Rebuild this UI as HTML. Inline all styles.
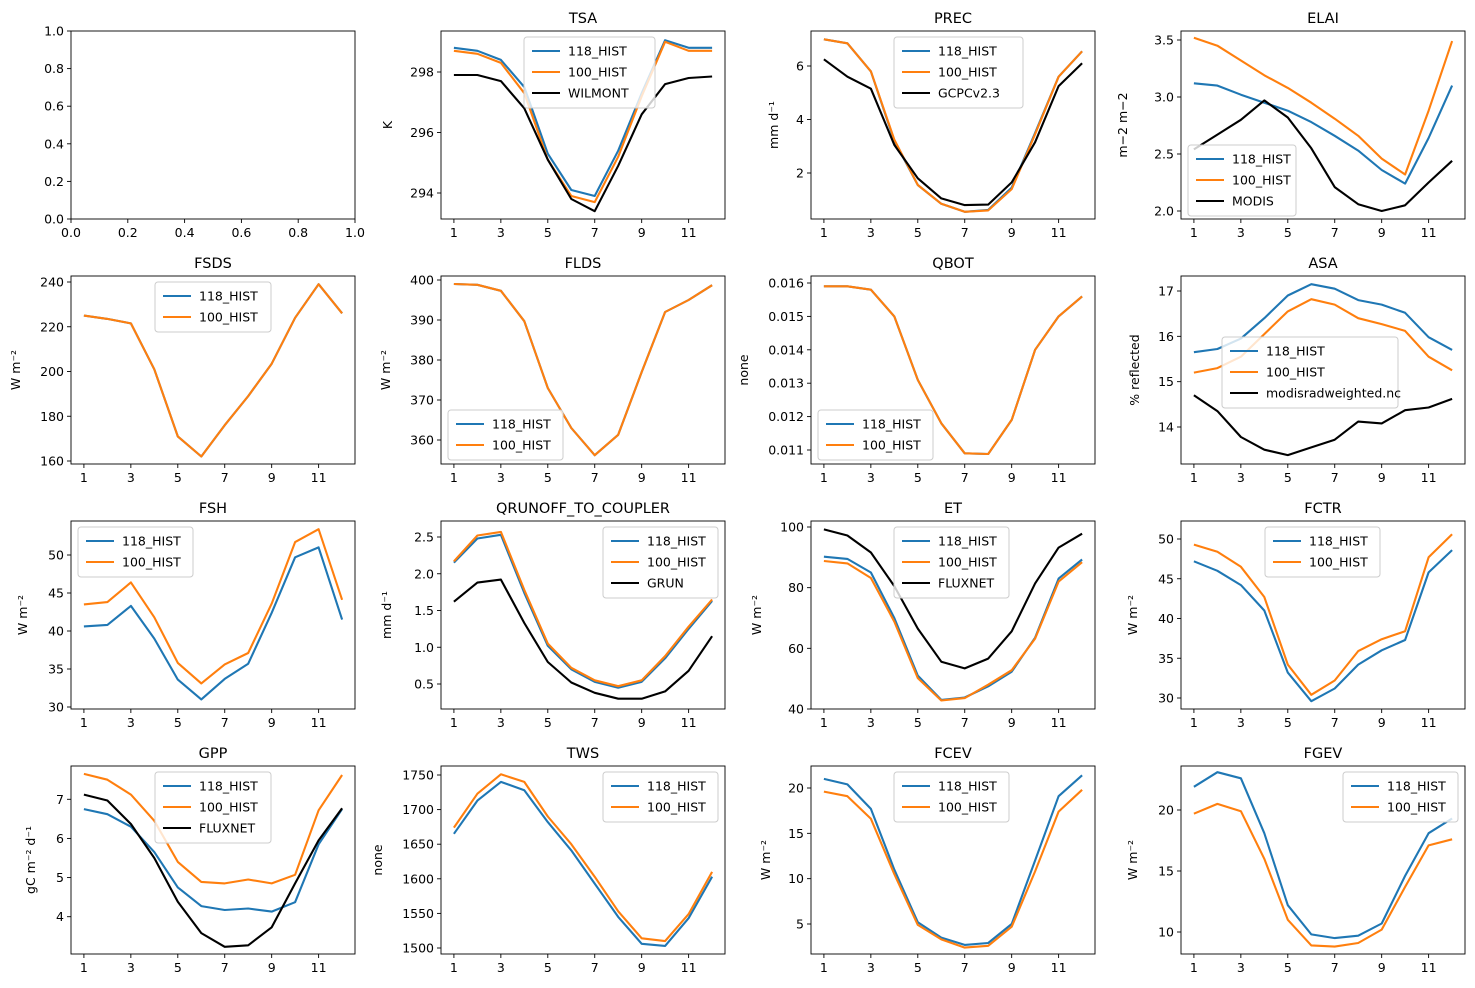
<!DOCTYPE html>
<html><head><meta charset="utf-8"><style>
body{margin:0;background:#fff}
svg{display:block;font-family:"DejaVu Sans","Liberation Sans",sans-serif}
</style></head><body>
<svg id="fig" width="1475" height="988" viewBox="0 0 1475 988" xmlns="http://www.w3.org/2000/svg"></svg>
<script>
const months=[1,2,3,4,5,6,7,8,9,10,11,12];
const xTickLabels=[1,3,5,7,9,11];
const tsa118=[298.8,298.7,298.4,297.5,295.3,294.1,293.9,295.4,297.3,299.05,298.8,298.8];
const tsa100=[298.7,298.6,298.3,297.3,295.1,293.9,293.7,295.2,297.2,299.0,298.7,298.7];
const tsaObs=[297.9,297.9,297.7,296.8,295.1,293.8,293.4,294.9,296.6,297.6,297.8,297.85];
const prec118=[7.0,6.85,5.8,3.2,1.55,0.85,0.55,0.62,1.45,3.5,5.6,6.55];
const prec100=[7.0,6.85,5.8,3.25,1.55,0.85,0.55,0.6,1.4,3.45,5.6,6.55];
const precObs=[6.25,5.6,5.15,3.05,1.8,1.05,0.8,0.82,1.65,3.15,5.25,6.1];
const elai118=[3.12,3.10,3.02,2.95,2.88,2.78,2.66,2.53,2.36,2.24,2.64,3.10];
const elai100=[3.52,3.45,3.32,3.19,3.08,2.95,2.81,2.66,2.46,2.32,2.88,3.49];
const elaiObs=[2.54,2.67,2.80,2.97,2.82,2.55,2.21,2.06,2.00,2.05,2.25,2.44];
const fsds118=[225,223.5,221.5,201,171,162,176,189,203.5,224,239,226];
const fsds100=[225,223.5,221.5,201,171,162,176,189,203.5,224,239,226];
const flds118=[399,398.8,397.3,389.7,373,363,356.2,361.3,377,392,395,398.7];
const flds100=[399,398.8,397.3,389.7,373,363,356.2,361.3,377,392,395,398.7];
const qbot118=[0.0159,0.0159,0.0158,0.0150,0.0131,0.0118,0.0109,0.01088,0.0119,0.0140,0.0150,0.0156];
const qbot100=[0.0159,0.0159,0.0158,0.0150,0.0131,0.0118,0.0109,0.01088,0.0119,0.0140,0.0150,0.0156];
const asa118=[15.65,15.72,15.95,16.4,16.9,17.15,17.05,16.8,16.7,16.52,15.98,15.7];
const asa100=[15.2,15.3,15.55,16.05,16.55,16.82,16.7,16.4,16.27,16.12,15.55,15.25];
const asaObs=[14.7,14.35,13.78,13.5,13.38,13.55,13.72,14.12,14.08,14.37,14.43,14.62];
const fsh118=[40.6,40.8,43.3,39.0,33.6,31.0,33.7,35.7,42.4,49.7,51.0,41.5];
const fsh100=[43.5,43.8,46.4,41.8,35.8,33.1,35.6,37.1,43.6,51.7,53.4,44.1];
const qro118=[2.15,2.48,2.53,1.74,1.02,0.70,0.53,0.45,0.53,0.85,1.25,1.63];
const qro100=[2.17,2.52,2.57,1.78,1.05,0.72,0.55,0.47,0.55,0.88,1.28,1.65];
const qroObs=[1.62,1.88,1.92,1.33,0.80,0.52,0.38,0.30,0.30,0.40,0.68,1.15];
const et118=[90.2,89.5,85,70,51,43,43.8,47.5,52.3,63.5,83,89.3];
const et100=[88.8,88,83.2,68.8,50.2,42.8,43.6,48,52.8,63.2,82,88.4];
const etObs=[99.2,97.2,91.6,80.5,66.5,55.6,53.4,56.6,65.6,81.4,93.2,97.8];
const fctr118=[47.2,46,44.2,41,33.2,29.6,31.2,34.2,36,37.3,45.8,48.6];
const fctr100=[49.3,48.4,46.5,42.7,34.2,30.4,32.2,35.9,37.4,38.4,47.7,50.6];
const gpp118=[6.75,6.62,6.3,5.65,4.75,4.27,4.17,4.21,4.13,4.37,5.85,6.75];
const gpp100=[7.65,7.5,7.12,6.45,5.4,4.89,4.85,4.95,4.85,5.07,6.72,7.62];
const gppObs=[7.12,6.97,6.37,5.5,4.38,3.58,3.23,3.27,3.73,4.85,5.95,6.77];
const tws118=[1665,1713,1740,1728,1682,1641,1593,1545,1506,1503,1543,1603];
const tws100=[1674,1723,1751,1740,1690,1650,1603,1553,1514,1510,1549,1610];
const fcev118=[21,20.4,17.7,11,5.2,3.5,2.7,2.9,5,12,19.1,21.4];
const fcev100=[19.6,19.1,16.6,10.5,4.9,3.3,2.4,2.6,4.7,10.8,17.4,19.8];
const fgev118=[21.9,23.1,22.6,18.1,12.2,9.8,9.5,9.7,10.7,14.6,18.1,19.3];
const fgev100=[19.7,20.5,19.9,16.0,11.0,8.9,8.8,9.1,10.2,13.7,17.1,17.6];

const NS="http://www.w3.org/2000/svg";
const fig=document.getElementById('fig');
const C1='#1f77b4',C2='#ff7f0e',C3='#000000';
function mk(tag,attrs,parent,txt){const e=document.createElementNS(NS,tag);for(const k in attrs)e.setAttribute(k,attrs[k]);if(txt!==undefined)e.textContent=txt;(parent||fig).appendChild(e);return e;}
const lefts=[71,441,811,1181],tops=[31,276,521,766],W=284,H=188;

const panels=[
 {c:1,r:0,t:'TSA',yl:'K',lo:49,ticks:[[294,193],[296,133],[298,72]],s:[[tsa118,C1,'118_HIST'],[tsa100,C2,'100_HIST'],[tsaObs,C3,'WILMONT']],lg:[524,37,131]},
 {c:2,r:0,t:'PREC',yl:'mm d⁻¹',lo:33,ticks:[[2,173],[4,119],[6,66]],s:[[prec118,C1,'118_HIST'],[prec100,C2,'100_HIST'],[precObs,C3,'GCPCv2.3']],lg:[894,37,129]},
 {c:3,r:0,t:'ELAI',yl:'m−2 m−2',lo:54,ticks:[[2.0,211],[2.5,154],[3.0,97],[3.5,40]],fmt:1,s:[[elai118,C1,'118_HIST'],[elai100,C2,'100_HIST'],[elaiObs,C3,'MODIS']],lg:[1188,145,108]},
 {c:0,r:1,t:'FSDS',yl:'W m⁻²',lo:51,ticks:[[160,461],[180,416],[200,371],[220,326],[240,282]],s:[[fsds118,C1,'118_HIST'],[fsds100,C2,'100_HIST']],lg:[155,282,116]},
 {c:1,r:1,t:'FLDS',yl:'W m⁻²',lo:51,ticks:[[360,440],[370,400],[380,360],[390,320],[400,280]],s:[[flds118,C1,'118_HIST'],[flds100,C2,'100_HIST']],lg:[448,410,115]},
 {c:2,r:1,t:'QBOT',yl:'none',lo:63,ticks:[[0.011,450],[0.012,417],[0.013,383],[0.014,350],[0.015,316],[0.016,283]],fmt:3,s:[[qbot118,C1,'118_HIST'],[qbot100,C2,'100_HIST']],lg:[818,410,115]},
 {c:3,r:1,t:'ASA',yl:'% reflected',lo:42,ticks:[[14,427],[15,382],[16,337],[17,291]],s:[[asa118,C1,'118_HIST'],[asa100,C2,'100_HIST'],[asaObs,C3,'modisradweighted.nc']],lg:[1222,337,176]},
 {c:0,r:2,t:'FSH',yl:'W m⁻²',lo:44,ticks:[[30,707],[35,669],[40,631],[45,593],[50,555]],s:[[fsh118,C1,'118_HIST'],[fsh100,C2,'100_HIST']],lg:[78,527,115]},
 {c:1,r:2,t:'QRUNOFF_TO_COUPLER',yl:'mm d⁻¹',lo:50,ticks:[[0.5,684],[1.0,647],[1.5,610],[2.0,573],[2.5,537]],fmt:1,s:[[qro118,C1,'118_HIST'],[qro100,C2,'100_HIST'],[qroObs,C3,'GRUN']],lg:[603,527,115]},
 {c:2,r:2,t:'ET',yl:'W m⁻²',lo:50,ticks:[[40,709],[60,648],[80,587],[100,527]],s:[[et118,C1,'118_HIST'],[et100,C2,'100_HIST'],[etObs,C3,'FLUXNET']],lg:[894,527,115]},
 {c:3,r:2,t:'FCTR',yl:'W m⁻²',lo:44,ticks:[[30,698],[35,658],[40,618],[45,579],[50,539]],s:[[fctr118,C1,'118_HIST'],[fctr100,C2,'100_HIST']],lg:[1265,527,115]},
 {c:0,r:3,t:'GPP',yl:'gC m⁻² d⁻¹',lo:36,ticks:[[4,916.7],[5,877.6],[6,838.5],[7,799.3]],s:[[gpp118,C1,'118_HIST'],[gpp100,C2,'100_HIST'],[gppObs,C3,'FLUXNET']],lg:[155,772,116]},
 {c:1,r:3,t:'TWS',yl:'none',lo:59,ticks:[[1500,948],[1550,913],[1600,879],[1650,844],[1700,810],[1750,775]],s:[[tws118,C1,'118_HIST'],[tws100,C2,'100_HIST']],lg:[603,772,115]},
 {c:2,r:3,t:'FCEV',yl:'W m⁻²',lo:41,ticks:[[5,924],[10,878],[15,833],[20,788]],s:[[fcev118,C1,'118_HIST'],[fcev100,C2,'100_HIST']],lg:[894,772,115]},
 {c:3,r:3,t:'FGEV',yl:'W m⁻²',lo:44,ticks:[[10,932],[15,871],[20,810]],s:[[fgev118,C1,'118_HIST'],[fgev100,C2,'100_HIST']],lg:[1343,772,115]}
];

function frame(g,L,T){
  const r=mk('rect',{x:L,y:T,width:W,height:H,fill:'none',stroke:'#000','stroke-width':0.9},g);
  
  
}
function ytick(g,L,y,label){
  mk('line',{x1:L-4,x2:L,y1:y,y2:y,stroke:'#000','stroke-width':0.9},g);
  const t=mk('text',{x:L-7,y:y+4.5,'font-size':12.5,'text-anchor':'end',fill:'#000'},g,label);
  
  
}
function xtick(g,x,B,label){
  mk('line',{x1:x,x2:x,y1:B,y2:B+4,stroke:'#000','stroke-width':0.9},g);
  const t=mk('text',{x:x,y:B+18,'font-size':12.5,'text-anchor':'middle',fill:'#000'},g,label);
  
  
}

(function(){
  const g=mk('g',{});
  
  
  const L=lefts[0],T=tops[0],B=T+H;
  frame(g,L,T);
  for(let i=0;i<=5;i++){const v=i*0.2;ytick(g,L,B-v*H,v.toFixed(1));xtick(g,L+v*W,B,v.toFixed(1));}
})();

panels.forEach(p=>{
  const L=lefts[p.c],T=tops[p.r],B=T+H;
  const g=mk('g',{});
  
  
  const t0=p.ticks[0],t1=p.ticks[p.ticks.length-1];
  const ys=v=>t0[1]+(v-t0[0])*(t1[1]-t0[1])/(t1[0]-t0[0]);
  const xs=m=>L+(m-0.45)/12.1*W;
  p.s.forEach((sr,i)=>{
    const d=sr[0].map((v,k)=>(k?'L':'M')+xs(months[k]).toFixed(1)+' '+ys(v).toFixed(1)).join(' ');
    const path=mk('path',{d:d,fill:'none',stroke:sr[1],'stroke-width':2.1,'stroke-linejoin':'round'},g);
    
    
  });
  frame(g,L,T);
  p.ticks.forEach(tk=>ytick(g,L,ys(tk[0]),p.fmt?tk[0].toFixed(p.fmt):String(tk[0])));
  xTickLabels.forEach(m=>xtick(g,xs(m),B,String(m)));
  const title=mk('text',{x:L+W/2,y:T-8,'font-size':14.5,'text-anchor':'middle',fill:'#000'},g,p.t);
  
  
  const yl=mk('text',{x:0,y:0,'font-size':12.5,'text-anchor':'middle',fill:'#000',transform:`translate(${L-p.lo},${T+H/2}) rotate(-90)`},g,p.yl);
  
  
  const [lx,ly,lw]=p.lg,n=p.s.length,lh=8+n*21;
  const lg=mk('g',{},g);
  
  
  mk('rect',{x:lx,y:ly,width:lw,height:lh,rx:3,fill:'#fff','fill-opacity':0.8,stroke:'#cccccc','stroke-width':1},lg);
  p.s.forEach((sr,i)=>{
    const yy=ly+14+i*21;
    const e=mk('g',{},lg);
    
    
    mk('line',{x1:lx+8,x2:lx+36,y1:yy,y2:yy,stroke:sr[1],'stroke-width':2.1},e);
    mk('text',{x:lx+44,y:yy+4.5,'font-size':12.5,fill:'#000'},e,sr[2]);
  });
});
</script>
</body></html>
